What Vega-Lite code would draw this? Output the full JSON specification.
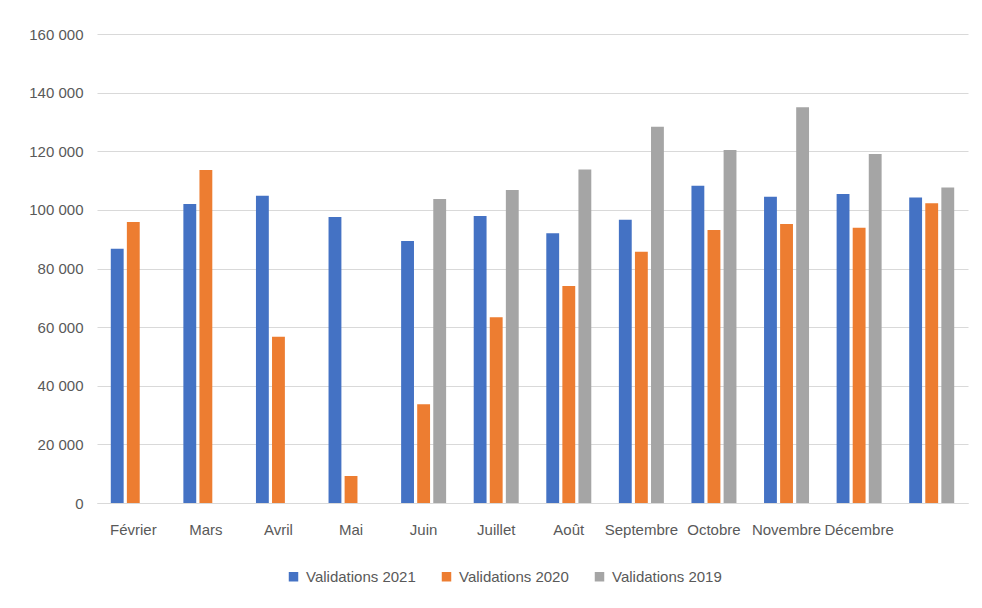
{
  "$schema": "https://vega.github.io/schema/vega-lite/v6.json",
  "width": 871,
  "height": 469,
  "autosize": {"type": "none"},
  "padding": {"left": 97, "top": 34, "right": 14, "bottom": 105},
  "background": "white",
  "config": {
    "view": {"stroke": null},
    "font": "Liberation Sans",
    "axis": {"labelColor": "#595959", "labelFontSize": 15, "labelFont": "Liberation Sans"},
    "legend": {"labelColor": "#595959", "labelFontSize": 15, "labelFont": "Liberation Sans"}
  },
  "data": {
    "values": [
      {"mois": "Février", "serie": "Validations 2021", "valeur": 86700},
      {"mois": "Février", "serie": "Validations 2020", "valeur": 95900},
      {"mois": "Mars", "serie": "Validations 2021", "valeur": 102000},
      {"mois": "Mars", "serie": "Validations 2020", "valeur": 113600},
      {"mois": "Avril", "serie": "Validations 2021", "valeur": 104800},
      {"mois": "Avril", "serie": "Validations 2020", "valeur": 56700},
      {"mois": "Mai", "serie": "Validations 2021", "valeur": 97600},
      {"mois": "Mai", "serie": "Validations 2020", "valeur": 9200},
      {"mois": "Juin", "serie": "Validations 2021", "valeur": 89400},
      {"mois": "Juin", "serie": "Validations 2020", "valeur": 33700},
      {"mois": "Juin", "serie": "Validations 2019", "valeur": 103700},
      {"mois": "Juillet", "serie": "Validations 2021", "valeur": 97900},
      {"mois": "Juillet", "serie": "Validations 2020", "valeur": 63400},
      {"mois": "Juillet", "serie": "Validations 2019", "valeur": 106800},
      {"mois": "Août", "serie": "Validations 2021", "valeur": 92000},
      {"mois": "Août", "serie": "Validations 2020", "valeur": 74000},
      {"mois": "Août", "serie": "Validations 2019", "valeur": 113800},
      {"mois": "Septembre", "serie": "Validations 2021", "valeur": 96600},
      {"mois": "Septembre", "serie": "Validations 2020", "valeur": 85700},
      {"mois": "Septembre", "serie": "Validations 2019", "valeur": 128400},
      {"mois": "Octobre", "serie": "Validations 2021", "valeur": 108200},
      {"mois": "Octobre", "serie": "Validations 2020", "valeur": 93100},
      {"mois": "Octobre", "serie": "Validations 2019", "valeur": 120400},
      {"mois": "Novembre", "serie": "Validations 2021", "valeur": 104500},
      {"mois": "Novembre", "serie": "Validations 2020", "valeur": 95200},
      {"mois": "Novembre", "serie": "Validations 2019", "valeur": 135000},
      {"mois": "Décembre", "serie": "Validations 2021", "valeur": 105400},
      {"mois": "Décembre", "serie": "Validations 2020", "valeur": 93900},
      {"mois": "Décembre", "serie": "Validations 2019", "valeur": 119100},
      {"mois": " ", "serie": "Validations 2021", "valeur": 104200},
      {"mois": " ", "serie": "Validations 2020", "valeur": 102300},
      {"mois": " ", "serie": "Validations 2019", "valeur": 107600}
    ]
  },
  "mark": {"type": "bar"},
  "encoding": {
    "x": {
      "field": "mois",
      "type": "nominal",
      "sort": ["Février", "Mars", "Avril", "Mai", "Juin", "Juillet", "Août", "Septembre", "Octobre", "Novembre", "Décembre", " "],
      "scale": {"paddingInner": 0.38, "paddingOuter": 0.19},
      "axis": {"title": null, "labelAngle": 0, "ticks": false, "domainColor": "#d9d9d9", "labelPadding": 19, "grid": false}
    },
    "xOffset": {
      "field": "serie",
      "type": "nominal",
      "sort": ["Validations 2021", "Validations 2020", "Validations 2019"],
      "scale": {"paddingInner": 0.2}
    },
    "y": {
      "field": "valeur",
      "type": "quantitative",
      "scale": {"domain": [0, 160000]},
      "axis": {
        "title": null,
        "values": [0, 20000, 40000, 60000, 80000, 100000, 120000, 140000, 160000],
        "labelExpr": "replace(format(datum.value, ','), ',', ' ')",
        "domain": false,
        "ticks": false,
        "labelPadding": 14,
        "gridColor": "#d9d9d9"
      }
    },
    "color": {
      "field": "serie",
      "type": "nominal",
      "sort": ["Validations 2021", "Validations 2020", "Validations 2019"],
      "scale": {"range": ["#4472C4", "#ED7D31", "#A5A5A5"]},
      "legend": {
        "title": null,
        "orient": "none",
        "direction": "horizontal",
        "legendX": 189,
        "legendY": 535,
        "symbolType": "square",
        "symbolSize": 90,
        "columnPadding": 23,
        "labelOffset": 5
      }
    }
  }
}
